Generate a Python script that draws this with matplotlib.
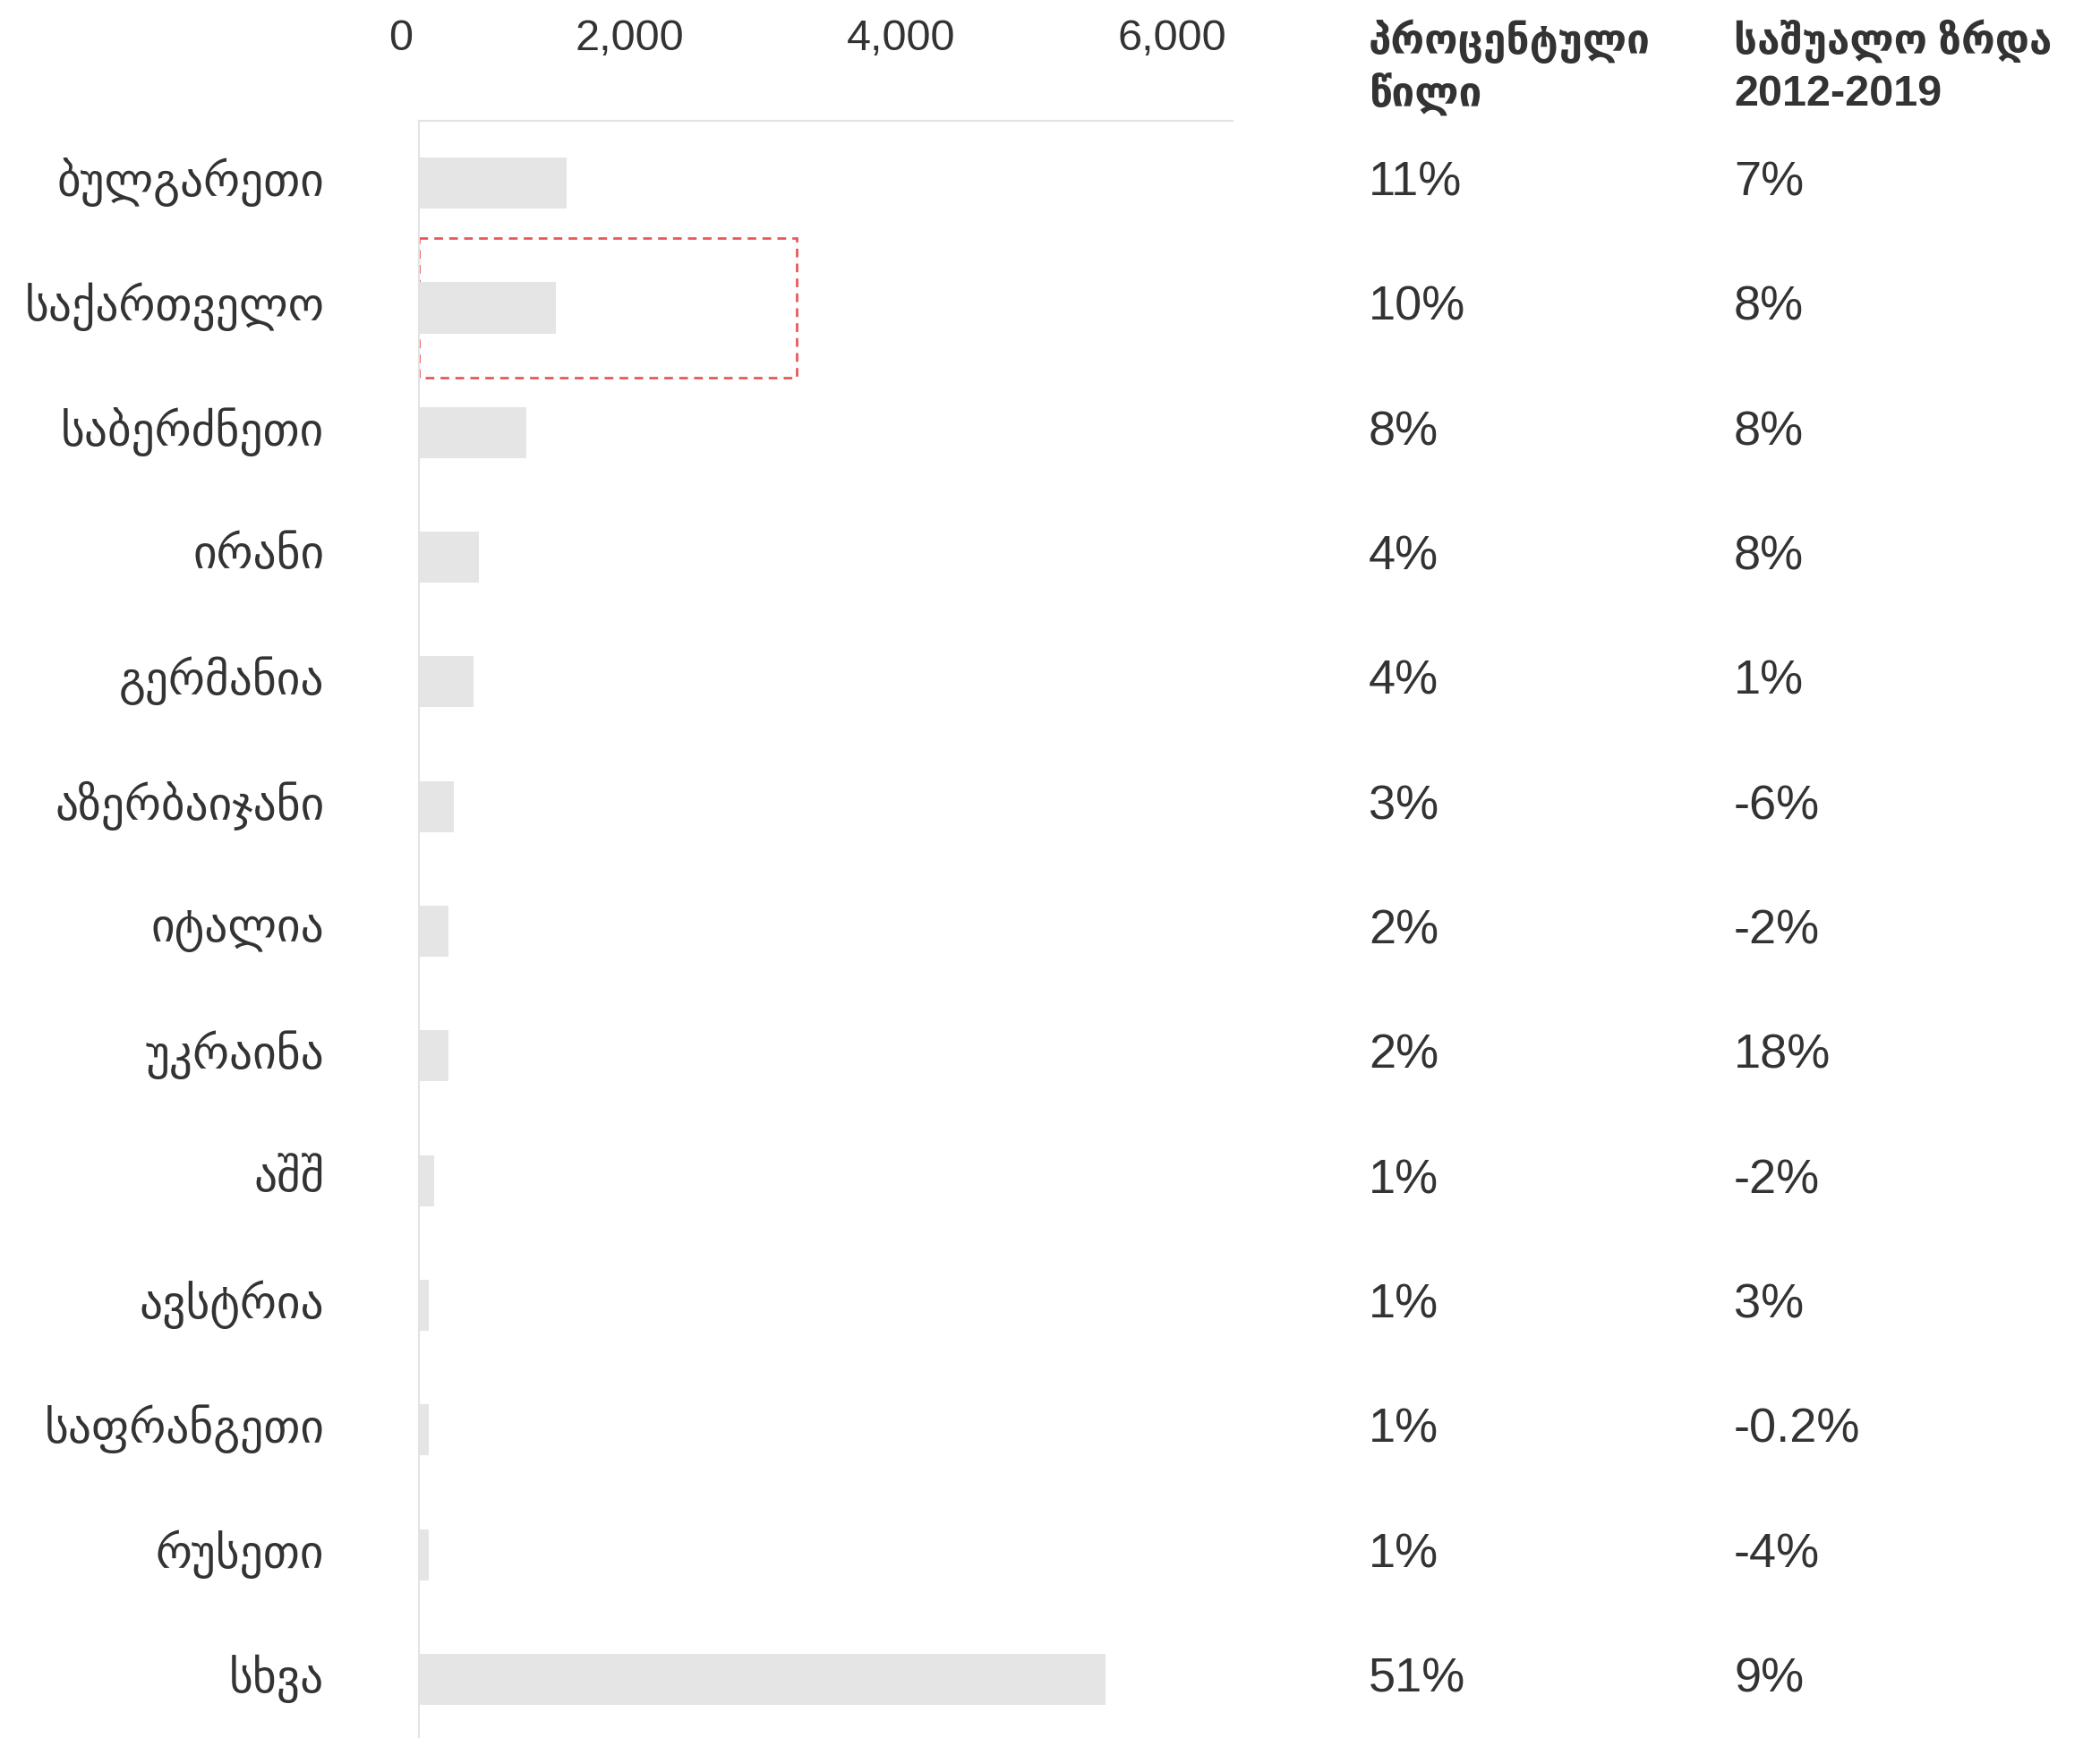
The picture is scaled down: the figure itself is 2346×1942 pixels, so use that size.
import matplotlib.pyplot as plt
from matplotlib.patches import Rectangle
import matplotlib.transforms as mtransforms

countries = ['ბულგარეთი', 'საქართველო', 'საბერძნეთი', 'ირანი', 'გერმანია',
             'აზერბაიჯანი', 'იტალია', 'უკრაინა', 'აშშ', 'ავსტრია',
             'საფრანგეთი', 'რუსეთი', 'სხვა']
values = [1090, 1010, 790, 445, 405, 260, 220, 220, 110, 70, 70, 70, 5065]
share = ['11%', '10%', '8%', '4%', '4%', '3%', '2%', '2%', '1%', '1%', '1%', '1%', '51%']
growth = ['7%', '8%', '8%', '8%', '1%', '-6%', '-2%', '18%', '-2%', '3%', '-0.2%', '-4%', '9%']
xticks = [0, 2000, 4000, 6000]
xtick_labels = ['0', '2,000', '4,000', '6,000']
head1 = ['პროცენტული', 'წილი']
head2 = ['საშუალო ზრდა', '2012-2019']
highlight = 'საქართველო'

fam = ['Liberation Sans', 'DejaVu Sans']
plt.rcParams['font.family'] = fam
txt = '#333333'

fig = plt.figure(figsize=(23.46, 19.42), dpi=100)
ax = fig.add_axes([0.1995, 0.0, 0.3875, 0.9305])

y = list(range(len(countries)))
ax.barh(y, values, height=0.41, color='#e5e5e5')
ax.set_xlim(0, 6000)
ax.set_ylim(len(countries) - 0.53, -0.5)

ax.xaxis.tick_top()
ax.set_xticks(xticks)
ax.set_xticklabels(xtick_labels, fontsize=35, color=txt, ha='right')
ax.set_yticks(y)
ax.set_yticklabels(countries, fontsize=37, color=txt)
ax.tick_params(axis='x', length=0, pad=50)
ax.tick_params(axis='y', length=0, pad=76)

# nudge tick labels a little (left for x, up for y)
for lab in ax.get_xticklabels():
    lab.set_transform(lab.get_transform() + mtransforms.ScaledTranslation(-5 / 72, 0, fig.dpi_scale_trans))
for lab in ax.get_yticklabels():
    lab.set_transform(lab.get_transform() + mtransforms.ScaledTranslation(0, 5 / 72, fig.dpi_scale_trans))

for s in ['right', 'bottom']:
    ax.spines[s].set_visible(False)
ax.spines['top'].set_color('#e3e3e3')
ax.spines['left'].set_color('#e3e3e3')
ax.spines['top'].set_linewidth(1.5)
ax.spines['left'].set_linewidth(1.5)

# highlight box around Georgia
i = countries.index(highlight)
ax.add_patch(Rectangle((0, i - 0.56), 2784, 1.12, fill=False, edgecolor='#e8585a',
                       linestyle=(0, (3.5, 2.5)), linewidth=2, clip_on=False, zorder=0.5))

trans = mtransforms.blended_transform_factory(fig.transFigure, ax.transData)
for k in range(len(countries)):
    ax.text(0.6518, k, share[k], transform=trans, fontsize=39, color=txt,
            va='center', ha='left')
    ax.text(0.8257, k, growth[k], transform=trans, fontsize=39, color=txt,
            va='center', ha='left')

fig.text(0.6518, 0.969, head1[0], fontsize=33, fontweight='bold', color=txt)
fig.text(0.6518, 0.939, head1[1], fontsize=33, fontweight='bold', color=txt)
fig.text(0.8257, 0.969, head2[0], fontsize=33, fontweight='bold', color=txt)
fig.text(0.8257, 0.939, head2[1], fontsize=35, fontweight='bold', color=txt)

fig.savefig('out.png', dpi=100, facecolor='white')
